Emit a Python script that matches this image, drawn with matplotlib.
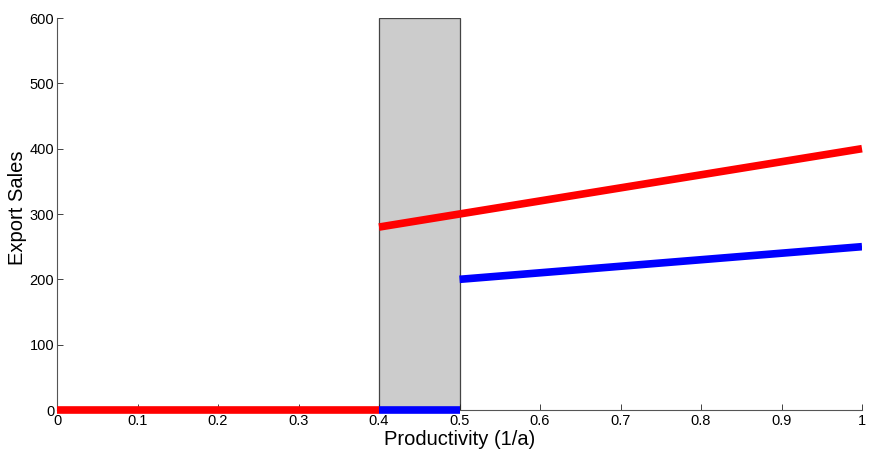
import matplotlib
matplotlib.use("Agg")
import matplotlib.pyplot as plt

plt.rcParams['font.family'] = ['Liberation Sans', 'DejaVu Sans']

# Data (segment endpoints)
red_x1 = [0.0, 0.4]
red_y1 = [0, 0]
red_x2 = [0.4, 1.0]
red_y2 = [280, 400]
blue_x1 = [0.4, 0.5]
blue_y1 = [0, 0]
blue_x2 = [0.5, 1.0]
blue_y2 = [200, 250]
shade = [0.4, 0.5]
xticks = [0, 0.1, 0.2, 0.3, 0.4, 0.5, 0.6, 0.7, 0.8, 0.9, 1]
xticklabels = ['0', '0.1', '0.2', '0.3', '0.4', '0.5', '0.6', '0.7', '0.8', '0.9', '1']
yticks = [0, 100, 200, 300, 400, 500, 600]

fig = plt.figure(figsize=(8.69, 4.51), dpi=100)
ax = fig.add_axes([57/869, 41/451, (862-57)/869, (410-18)/451])

ax.axvspan(shade[0], shade[1], facecolor='#cccccc', edgecolor='#444444', linewidth=0.9, zorder=1)

lw = 5.5
ax.plot(blue_x1, blue_y1, color='#0000ff', lw=lw, solid_capstyle='butt', zorder=3, clip_on=False)
ax.plot(blue_x2, blue_y2, color='#0000ff', lw=lw, solid_capstyle='butt', zorder=3)
ax.plot(red_x1, red_y1, color='#ff0000', lw=lw, solid_capstyle='butt', zorder=4, clip_on=False)
ax.plot(red_x2, red_y2, color='#ff0000', lw=lw, solid_capstyle='butt', zorder=4, clip_on=False)

ax.set_xlim(0, 1)
ax.set_ylim(0, 600)
ax.set_xticks(xticks)
ax.set_xticklabels(xticklabels)
ax.set_yticks(yticks)
ax.tick_params(direction='in', length=4, width=0.6, labelsize=10.5, colors='#222222', labelcolor='black', pad=2)
ax.tick_params(axis='x', pad=3)
for s in ['top', 'right']:
    ax.spines[s].set_visible(False)
for s in ['left', 'bottom']:
    ax.spines[s].set_color('#555555')
    ax.spines[s].set_linewidth(0.8)

ax.set_xlabel('Productivity (1/a)', fontsize=14.5, labelpad=1)
ax.set_ylabel('Export Sales', fontsize=14.5)
ax.yaxis.set_label_coords(-30/805, 0.515)

fig.savefig('out.png', dpi=100)
